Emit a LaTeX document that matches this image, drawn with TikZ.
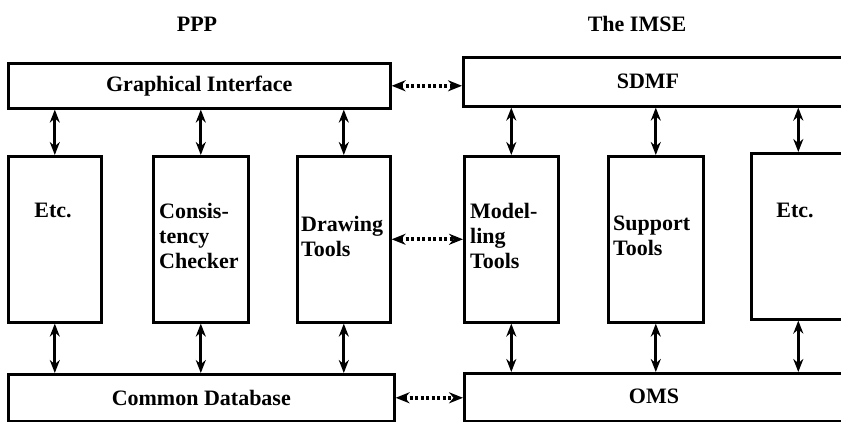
\documentclass[tikz,border=0pt]{standalone}
\usepackage{fontspec}
\setmainfont{Liberation Serif}
\usetikzlibrary{arrows.meta}
\begin{document}
\begin{tikzpicture}[x=1pt,y=-1pt,
  box/.style={draw,line width=2.6pt,inner sep=0pt,anchor=north west},
  lbl/.style={font=\fontsize{22}{25}\selectfont\bfseries,inner sep=0pt},
  stack/.style={lbl,align=left,anchor=west},
  link/.style={line width=3pt,{Stealth[length=13pt,width=10pt]}-{Stealth[length=13pt,width=10pt]}},
  bridge/.style={line width=4pt,dash pattern=on 3pt off 2.5pt,
    {Stealth[length=14pt,width=11pt]}-{Stealth[length=14pt,width=11pt]}}]
\useasboundingbox (0,0) rectangle (841,422);
\clip (0,0) rectangle (841,422);

% column headings
\node[lbl] (ppp) at (197,24) {PPP};
\node[lbl] (imse) at (637,24) {The IMSE};

% PPP side
\node[box,minimum width=382pt,minimum height=45pt] (gi) at (7,62) {};
\node[box,minimum width=93pt,minimum height=166pt] (etcl) at (7,155) {};
\node[box,minimum width=95pt,minimum height=166pt] (cc) at (152,155) {};
\node[box,minimum width=93pt,minimum height=166pt] (dt) at (296,155) {};
\node[box,minimum width=386pt,minimum height=47pt] (cd) at (7,373) {};

% IMSE side, boxes run on past the right edge
\node[box,minimum width=440pt,minimum height=49pt] (sdmf) at (462,56) {};
\node[box,minimum width=94pt,minimum height=166pt] (mt) at (463,155) {};
\node[box,minimum width=95pt,minimum height=166pt] (st) at (607,155) {};
\node[box,minimum width=94pt,minimum height=166pt] (etcr) at (750,152) {};
\node[box,minimum width=440pt,minimum height=48pt] (oms) at (463,372) {};

% labels
\node[lbl] (giL) at (gi.center) {Graphical Interface};
\node[lbl] (cdL) at (cd.center) {Common Database};
\node[lbl] (sdmfL) at (648,81) {SDMF};
\node[lbl] (omsL) at (654,396) {OMS};
\node[lbl] (etclL) at (53,210) {Etc.};
\node[stack] (ccL) at (159,236) {Consis-\\tency\\Checker};
\node[stack] (dtL) at (301,236) {Drawing\\Tools};
\node[stack] (mtL) at (470,236) {Model-\\ling\\Tools};
\node[stack] (stL) at (613,236) {Support\\Tools};
\node[lbl] (etcrL) at (795,210) {Etc.};

% vertical links
\foreach \b in {etcl,cc,dt}{
  \draw[link] (gi.south -| \b.north) -- (\b.north);
  \draw[link] (\b.south) -- (\b.south |- cd.north);
}
\foreach \b in {mt,st,etcr}{
  \draw[link] (sdmf.south -| \b.north) -- (\b.north);
  \draw[link] (\b.south) -- (\b.south |- oms.north);
}

% links between the two systems
\draw[bridge] (gi.east) -- (gi.east -| sdmf.west);
\draw[bridge] (dt.east) -- (dt.east -| mt.west);
\draw[bridge] (cd.east) -- (cd.east -| oms.west);
\end{tikzpicture}
\end{document}
